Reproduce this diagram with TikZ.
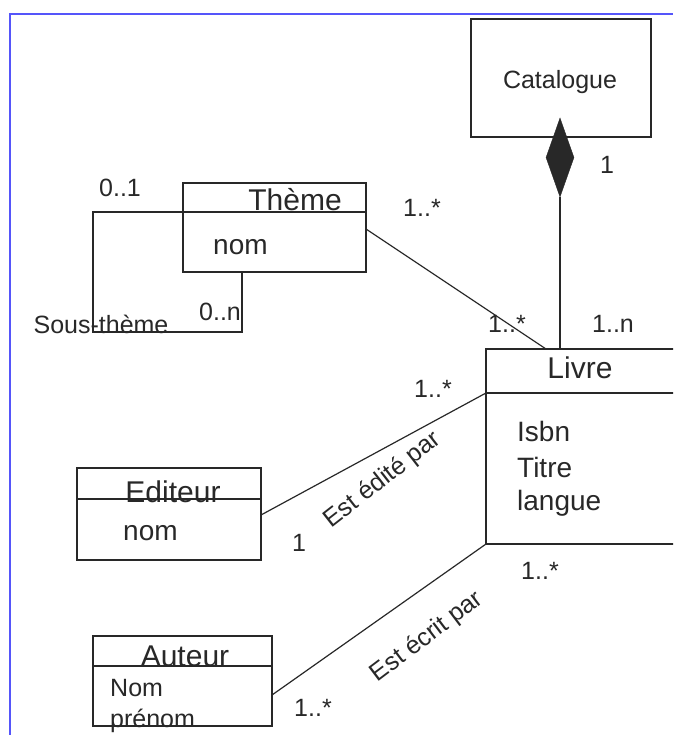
\documentclass[tikz,border=0pt]{standalone}
\usepackage{fontspec}
\setmainfont{Liberation Sans}
\usetikzlibrary{calc,shapes.geometric}
\definecolor{frameblue}{RGB}{85,85,250}
\definecolor{ink}{RGB}{40,40,40}
\tikzset{
  cls/.style={draw=ink, line width=1.4pt, anchor=north west, inner sep=0pt, outer sep=0pt},
  conn/.style={draw=ink, line width=1.2pt},
  lbl/.style={text=ink, inner sep=0pt, font=\fontsize{25}{28}\selectfont},
  big/.style={text=ink, inner sep=0pt, font=\fontsize{30}{34}\selectfont},
  attr/.style={text=ink, inner sep=0pt, anchor=west, font=\fontsize{28}{32}\selectfont},
  small/.style={text=ink, inner sep=0pt, anchor=west, font=\fontsize{25}{28}\selectfont},
}
\begin{document}
\begin{tikzpicture}[x=1pt,y=-1pt]
\useasboundingbox (0,0) rectangle (673,735);
\clip (0,0) rectangle (673,735);
\fill[white] (0,0) rectangle (673,735);
\draw[frameblue, line width=2pt] (10,735) -- (10,14) -- (673,14);

% classes
\node[cls, minimum width=180pt, minimum height=118pt] (cat) at (471,19) {};
\node[lbl] (catT) at (560,82) {Catalogue};

\node[cls, minimum width=183pt, minimum height=89pt] (theme) at (183,183) {};
\draw[conn] ($(theme.north west)+(0,29)$) -- ($(theme.north east)+(0,29)$);
\node[big, anchor=base] (themeT) at (295,211) {Thème};
\node[attr] (themeA) at (213,247) {nom};

\node[cls, minimum width=215pt, minimum height=195pt] (livre) at (486,349) {};
\draw[conn] ($(livre.north west)+(0,44)$) -- ($(livre.north east)+(0,44)$);
\node[big] (livreT) at (580,368) {Livre};
\node[attr] (isbn) at (517,431) {Isbn};
\node[attr] (titre) at (517,467) {Titre};
\node[attr] (langue) at (517,503) {langue};

\node[cls, minimum width=184pt, minimum height=92pt] (edit) at (77,468) {};
\draw[conn] ($(edit.north west)+(0,31)$) -- ($(edit.north east)+(0,31)$);
\node[big, anchor=base] (editT) at (173,502) {Editeur};
\node[attr] (editA) at (123,533) {nom};

\node[cls, minimum width=179pt, minimum height=90pt] (aut) at (93,636) {};
\draw[conn] ($(aut.north west)+(0,30)$) -- ($(aut.north east)+(0,30)$);
\node[big, anchor=base] (autT) at (185,666) {Auteur};
\node[small] (autA1) at (110,688) {Nom};
\node[small, anchor=base west] (autA2) at (110,727) {prénom};

% composition Catalogue - Livre
\node[diamond, fill=ink, draw=ink, inner sep=0pt, minimum width=28pt, minimum height=79pt] (dia) at (560,157.5) {};
\draw[conn] (dia.south) -- (dia.south |- livre.north);

% Theme - Livre
\coordinate (thR) at ($(theme.north east)+(0,46)$);
\coordinate (lvT) at ($(livre.north west)+(60,0)$);
\draw[conn] (thR) -- (lvT);

% self association
\coordinate (thL) at ($(theme.north west)+(0,29)$);
\coordinate (thB) at ($(theme.south west)+(59,0)$);
\draw[conn] (thL) -- (93,212) -- (93,332) -- (thB |- 0,332) -- (thB);

% Editeur - Livre
\coordinate (edR) at ($(edit.north east)+(0,47)$);
\coordinate (lvD) at ($(livre.north west)+(0,44)$);
\draw[conn] (edR) -- (lvD);

% Auteur - Livre
\coordinate (auR) at ($(aut.north east)+(0,59)$);
\draw[conn] (auR) -- (livre.south west);

% labels
\node[lbl] (m1) at (607,165) {1};
\node[lbl] (m01) at (120,188) {0..1};
\node[lbl] (m0n) at (220,312) {0..n};
\node[lbl] (st) at (101,324) {Sous-thème};
\node[lbl] (m1a) at (422,208) {1..*};
\node[lbl] (m1b) at (507,324) {1..*};
\node[lbl] (m1n) at (613,324) {1..n};
\node[lbl] (m1c) at (433,389) {1..*};
\node[lbl] (m1d) at (299,543) {1};
\node[lbl, rotate=38] (edp) at (383,480) {Est édité par};
\node[lbl, rotate=37] (ecp) at (427,637) {Est écrit par};
\node[lbl] (m1e) at (540,571) {1..*};
\node[lbl] (m1f) at (313,708) {1..*};
\end{tikzpicture}
\end{document}
